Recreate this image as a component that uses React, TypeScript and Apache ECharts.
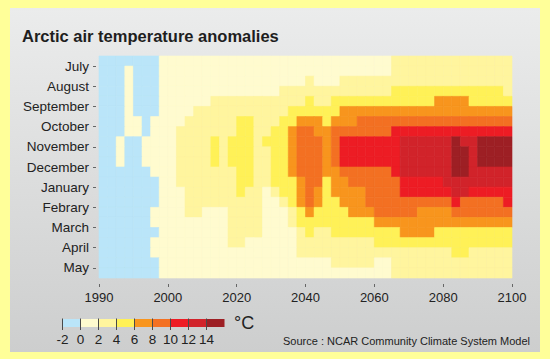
import React, { useEffect, useRef } from "react";
import * as echarts from "echarts";

// ---- labels ----
const MONTHS = ["July", "August", "September", "October", "November", "December", "January", "Febrary", "March", "April", "May"];
const YEARS = ["1990", "2000", "2020", "2040", "2060", "2080", "2100"];
const LEGEND_TICKS = ["-2", "0", "2", "4", "6", "8", "10", "12", "14"];
const BAND_EDGES = [-2, 0, 2, 4, 6, 8, 10, 12, 14, 16];
const BAND_COLORS = ["#bae5f9", "#fffbcf", "#fff59e", "#fff157", "#f8951d", "#f37022", "#ed1c24", "#d1232a", "#9d1f24"];

// ---- temperature anomaly (°C): half-month rows, 48 columns from 1990 to 2100 ----
const JUL_A = [-1,-1,-1,-1,-1,-1,-1,1, 1,1,1,1,1,1,1,1, 1,1,1,1,1,1,1,1, 1,1,1,1,1,1,1,1, 1,1,3,3,3,3,3,3, 3,3,3,3,3,3,3,3];
const JUL_B = [-1,-1,-1,1,-1,-1,-1,1, 1,1,1,1,1,1,1,1, 1,1,1,1,1,1,1,1, 1,1,1,1,1,1,1,1, 1,1,3,3,3,3,3,3, 3,3,3,3,3,3,3,3];
const AUG_A = [-1,-1,-1,1,-1,-1,-1,1, 1,1,1,1,1,1,1,1, 1,1,1,1,1,1,1,1, 3,1,1,1,3,3,3,3, 3,3,3,3,3,3,3,3, 3,3,3,3,3,3,3,3];
const AUG_B = [-1,-1,-1,1,-1,-1,-1,1, 1,1,1,1,1,1,1,1, 1,1,1,1,1,3,3,3, 3,3,3,3,3,3,3,3, 3,3,5,5,5,5,5,5, 5,5,5,5,5,5,5,3];
const SEP_A = [-1,-1,-1,1,-1,-1,-1,1, 1,1,1,1,1,3,3,3, 3,3,3,3,3,3,3,3, 5,3,3,5,5,5,5,5, 5,5,5,5,5,5,5,7, 7,7,7,5,5,5,5,5];
const SEP_B = [-1,-1,-1,1,-1,-1,-1,1, 1,1,1,3,3,3,3,3, 3,3,3,3,3,3,5,5, 5,5,5,5,7,7,7,7, 7,7,7,7,7,7,7,7, 7,7,7,7,7,7,7,7];
const OCT_A = [-1,-1,-1,1,1,-1,1,1, 1,1,3,3,3,3,3,3, 5,5,3,3,3,5,5,7, 7,7,5,7,7,7,9,9, 9,9,9,9,9,9,9,9, 9,9,9,9,9,9,9,9];
const OCT_B = [-1,-1,-1,1,1,-1,1,1, 1,3,3,3,3,3,3,3, 5,5,3,3,5,5,7,9, 9,7,7,9,9,9,9,9, 9,9,11,11,11,11,11,11, 11,11,11,11,11,11,11,11];
const NOV_A = [-1,-1,1,-1,-1,1,1,1, 1,3,3,3,3,5,3,5, 5,5,3,5,5,5,7,9, 9,9,7,9,11,11,11,11, 11,11,11,13,13,13,13,13, 13,15,13,13,15,15,15,15];
const NOV_B = [-1,-1,1,-1,-1,1,1,1, 1,3,3,3,3,5,3,5, 5,5,3,3,5,5,7,9, 9,9,7,9,11,11,11,11, 11,11,11,13,13,13,13,13, 13,15,15,13,15,15,15,15];
const DEC_A = [-1,-1,1,-1,-1,1,1,1, 1,3,3,3,3,5,3,5, 5,5,3,3,5,5,7,9, 9,9,7,9,11,11,11,11, 11,11,11,13,13,13,13,13, 13,15,15,13,15,15,15,15];
const DEC_B = [-1,-1,-1,-1,-1,-1,1,1, 1,3,3,3,3,3,3,3, 5,5,3,3,5,5,7,9, 9,9,7,7,9,9,9,9, 9,9,11,13,13,13,13,13, 13,15,15,13,13,13,13,13];
const JAN_A = [-1,-1,-1,-1,-1,-1,-1,1, 1,3,3,3,3,3,3,3, 5,5,3,3,5,5,5,7, 9,9,5,7,7,9,9,9, 9,9,9,11,11,11,11,11, 13,13,13,13,13,13,13,13];
const JAN_B = [-1,-1,-1,-1,-1,-1,-1,1, 1,1,3,3,3,3,3,3, 5,3,3,1,3,5,5,7, 9,7,5,7,7,7,7,9, 9,9,9,11,11,11,11,11, 11,13,13,11,11,11,11,11];
const FEB_A = [-1,-1,-1,-1,-1,-1,-1,1, 1,1,3,3,3,3,3,3, 3,3,3,1,1,3,5,7, 9,7,5,5,7,7,7,9, 9,9,9,9,9,9,9,9, 9,11,9,9,9,9,9,11];
const FEB_B = [-1,-1,-1,-1,-1,-1,1,1, 1,1,3,3,1,1,1,3, 3,3,3,1,1,1,3,5, 7,5,5,5,5,7,7,7, 9,9,9,9,9,7,7,7, 7,9,9,9,9,9,9,9];
const MAR_A = [-1,-1,-1,-1,-1,-1,1,1, 1,1,1,1,1,1,1,3, 3,3,3,1,1,1,3,5, 5,5,5,5,5,5,5,5, 7,7,7,7,7,7,7,7, 7,7,7,7,7,7,7,7];
const MAR_B = [-1,-1,-1,-1,-1,-1,-1,1, 1,1,1,1,1,1,1,3, 3,3,3,1,1,1,1,3, 5,3,3,5,5,5,5,5, 5,5,5,7,7,7,7,5, 5,5,5,5,5,5,5,5];
const APR_A = [-1,-1,-1,-1,-1,-1,1,1, 1,1,1,1,1,1,1,3, 3,1,1,1,1,1,1,3, 3,3,3,3,3,3,3,3, 5,5,5,5,5,5,5,5, 5,5,5,5,5,5,5,5];
const APR_B = [-1,-1,-1,-1,-1,-1,1,1, 1,1,1,1,1,1,1,1, 1,1,1,1,1,1,1,3, 3,3,3,3,3,3,3,3, 3,3,3,3,3,3,3,3, 3,5,5,3,3,3,3,3];
const MAY_A = [-1,-1,-1,-1,-1,-1,-1,1, 1,1,1,1,1,1,1,1, 1,1,1,1,1,1,1,1, 1,1,1,3,3,3,3,3, 1,1,3,3,3,3,3,3, 3,3,3,3,3,3,3,3];
const MAY_B = [-1,-1,-1,-1,-1,-1,-1,1, 1,1,1,1,1,1,1,1, 1,1,1,1,1,1,1,1, 1,1,1,1,1,1,1,1, 1,1,3,3,3,3,3,3, 3,3,3,3,3,3,3,3];

const ROWS = [JUL_A, JUL_B, AUG_A, AUG_B, SEP_A, SEP_B, OCT_A, OCT_B, NOV_A, NOV_B, DEC_A, DEC_B,
  JAN_A, JAN_B, FEB_A, FEB_B, MAR_A, MAR_B, APR_A, APR_B, MAY_A, MAY_B];

const FONT = "'Liberation Sans', Arial, Helvetica, sans-serif";

export default function App() {
  const ref = useRef<HTMLDivElement>(null);

  useEffect(() => {
    if (!ref.current) return;
    const chart = echarts.init(ref.current, null, { renderer: "svg" });

    const nCols = ROWS[0].length;
    const colCats = Array.from({ length: nCols }, (_, i) => String(i));
    const rowCats = ROWS.map((_, i) => String(i));
    const data: number[][] = [];
    ROWS.forEach((row, r) => row.forEach((v, c) => data.push([c, r, v])));

    const pieces = BAND_COLORS.map((color, i) => {
      if (i === 0) return { lt: BAND_EDGES[1], color };
      if (i === BAND_COLORS.length - 1) return { gte: BAND_EDGES[i], color };
      return { gte: BAND_EDGES[i], lt: BAND_EDGES[i + 1], color };
    });

    const lx0 = 62.5, lw = 18, ly = 319, lh = 8;
    const legendGraphics: any[] = [];
    BAND_COLORS.forEach((c, i) => {
      legendGraphics.push({ type: "rect", shape: { x: lx0 + i * lw, y: ly, width: lw, height: lh }, style: { fill: c } });
    });
    LEGEND_TICKS.forEach((t, i) => {
      legendGraphics.push({ type: "line", shape: { x1: lx0 + i * lw, y1: ly - 0.5, x2: lx0 + i * lw, y2: ly + lh + 3 }, style: { stroke: "#4a4a4a", lineWidth: 1 } });
      legendGraphics.push({ type: "text", x: lx0 + i * lw, y: 339, style: { text: t, fill: "#222", font: `13.5px ${FONT}`, textAlign: "center", textVerticalAlign: "middle" } });
    });

    chart.setOption({
      animation: false,
      backgroundColor: "#ffff99",
      graphic: [
        {
          type: "rect", z: -100, silent: true,
          shape: { x: 10, y: 8, width: 530, height: 344 },
          style: {
            fill: new echarts.graphic.LinearGradient(0, 0, 0, 1, [
              { offset: 0, color: "#ebecec" },
              { offset: 1, color: "#cdcece" },
            ]),
          },
        },
        { type: "text", x: 22, y: 36, style: { text: "Arctic air temperature anomalies", fill: "#1e1e1e", font: `bold 16.5px ${FONT}`, textVerticalAlign: "middle" } },
        ...legendGraphics,
        { type: "text", x: 234, y: 323, style: { text: "°C", fill: "#222", font: `18px ${FONT}`, textVerticalAlign: "middle" } },
        { type: "text", x: 530, y: 341, style: { text: "Source : NCAR Community Climate System Model", fill: "#222", font: `11px ${FONT}`, textAlign: "right", textVerticalAlign: "middle" } },
      ],
      grid: { left: 99, top: 56, width: 413, height: 222, containLabel: false },
      xAxis: [
        { type: "category", data: colCats, show: false, boundaryGap: true, position: "bottom" },
        {
          type: "category", data: YEARS, boundaryGap: false, position: "bottom", offset: 6,
          axisLine: { show: false },
          axisTick: { show: true, length: 3, lineStyle: { color: "#666", width: 1 } },
          axisLabel: { interval: 0, margin: 7, fontSize: 13, color: "#222", fontFamily: FONT },
          splitLine: { show: false },
        },
      ],
      yAxis: [
        { type: "category", data: rowCats, show: false, inverse: true, position: "left" },
        {
          type: "category", data: MONTHS, inverse: true, position: "left", offset: 3,
          axisLine: { show: false },
          axisTick: { show: true, alignWithLabel: true, length: 3, lineStyle: { color: "#666", width: 1 } },
          axisLabel: { interval: 0, margin: 7, fontSize: 13.5, color: "#222", fontFamily: FONT },
          splitLine: { show: false },
        },
      ],
      visualMap: { type: "piecewise", show: false, dimension: 2, seriesIndex: 0, pieces },
      series: [
        {
          type: "custom",
          xAxisIndex: 0,
          yAxisIndex: 0,
          silent: true,
          encode: { x: 0, y: 1 },
          data,
          renderItem: (params: any, api: any) => {
            const p = api.coord([api.value(0), api.value(1)]);
            const s = api.size([1, 1]);
            const color = api.visual("color");
            return {
              type: "rect",
              shape: { x: p[0] - s[0] / 2, y: p[1] - s[1] / 2, width: s[0], height: s[1] },
              style: { fill: color, stroke: color, lineWidth: 0.6 },
            };
          },
        },
      ],
    });

    return () => chart.dispose();
  }, []);

  return <div ref={ref} style={{ position: "fixed", left: 0, top: 0, width: 550, height: 359 }} />;
}
